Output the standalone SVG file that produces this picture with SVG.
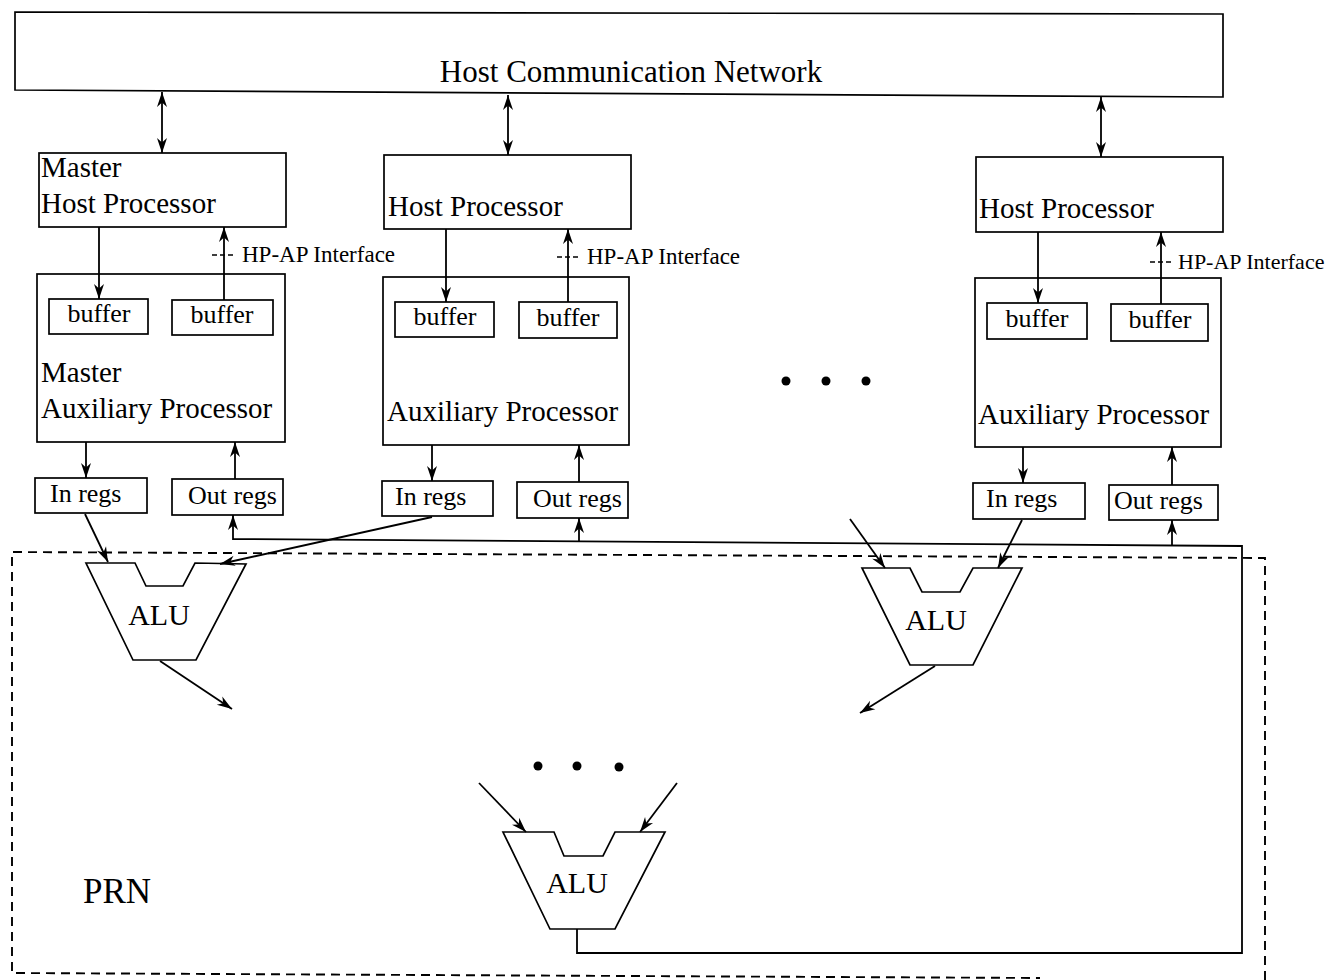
<svg xmlns="http://www.w3.org/2000/svg" width="1340" height="980" viewBox="0 0 1340 980">
<defs>
<marker id="ah" markerUnits="userSpaceOnUse" markerWidth="20" markerHeight="14" viewBox="-17 -7 19 14" refX="0" refY="0" orient="auto-start-reverse">
<path d="M0,0 L-15,-5 L-10.5,0 L-15,5 Z" fill="#000"/>
</marker>
</defs>
<style>
.box{fill:#fff;stroke:#000;stroke-width:1.7}
.ln{fill:none;stroke:#000;stroke-width:1.7}
.ar{fill:none;stroke:#000;stroke-width:1.8;marker-end:url(#ah)}
.bi{fill:none;stroke:#000;stroke-width:1.8;marker-end:url(#ah);marker-start:url(#ah)}
.dash{fill:none;stroke:#000;stroke-width:1.9;stroke-dasharray:9,6}
.t{font-family:"Liberation Serif","Times New Roman",serif;fill:#000}
.big{font-size:29px}
.mid{font-size:26px}
.sm{font-size:23px}
.c{text-anchor:middle}
</style>
<rect width="1340" height="980" fill="#fff"/>

<g id="prn">
<path class="dash" d="M1265,980 L1265,558 L12,552 L12,973 L1040,978"/>
<text class="t" x="83" y="903" style="font-size:35px">PRN</text>
</g>

<g id="network">
<path class="box" d="M15,12 L1223,14 L1223,97 L15,90 Z"/>
<text class="t c" x="631" y="82" style="font-size:31px">Host Communication Network</text>
</g>

<g id="host1">
<rect class="box" x="39" y="153" width="247" height="74"/>
<text class="t big" x="41" y="177">Master</text>
<text class="t big" x="41" y="213">Host Processor</text>
</g>
<g id="host2">
<rect class="box" x="384" y="155" width="247" height="74"/>
<text class="t big" x="388" y="216">Host Processor</text>
</g>
<g id="host3">
<rect class="box" x="976" y="157" width="247" height="75"/>
<text class="t big" x="979" y="218">Host Processor</text>
</g>

<g id="aux1">
<rect class="box" x="37" y="274" width="248" height="168"/>
<text class="t big" x="41" y="382">Master</text>
<text class="t big" x="41" y="418">Auxiliary Processor</text>
</g>
<g id="aux2">
<rect class="box" x="383" y="277" width="246" height="168"/>
<text class="t big" x="387" y="421">Auxiliary Processor</text>
</g>
<g id="aux3">
<rect class="box" x="975" y="278" width="246" height="169"/>
<text class="t big" x="978" y="424">Auxiliary Processor</text>
</g>

<g id="buf1a"><rect class="box" x="49" y="299" width="99" height="35"/><text class="t mid c" x="99" y="322">buffer</text></g>
<g id="buf1b"><rect class="box" x="172" y="300" width="101" height="35"/><text class="t mid c" x="222" y="323">buffer</text></g>
<g id="buf2a"><rect class="box" x="395" y="302" width="99" height="35"/><text class="t mid c" x="445" y="325">buffer</text></g>
<g id="buf2b"><rect class="box" x="519" y="302" width="98" height="36"/><text class="t mid c" x="568" y="326">buffer</text></g>
<g id="buf3a"><rect class="box" x="987" y="303" width="100" height="36"/><text class="t mid c" x="1037" y="327">buffer</text></g>
<g id="buf3b"><rect class="box" x="1111" y="304" width="97" height="37"/><text class="t mid c" x="1160" y="328">buffer</text></g>

<g id="inregs1"><rect class="box" x="35" y="478" width="112" height="35"/><text class="t mid" x="50" y="502">In regs</text></g>
<g id="outregs1"><rect class="box" x="172" y="479" width="111" height="36"/><text class="t mid" x="188" y="504">Out regs</text></g>
<g id="inregs2"><rect class="box" x="382" y="481" width="111" height="35"/><text class="t mid" x="395" y="505">In regs</text></g>
<g id="outregs2"><rect class="box" x="517" y="482" width="111" height="36"/><text class="t mid" x="533" y="507">Out regs</text></g>
<g id="inregs3"><rect class="box" x="973" y="483" width="112" height="36"/><text class="t mid" x="986" y="507">In regs</text></g>
<g id="outregs3"><rect class="box" x="1109" y="485" width="109" height="35"/><text class="t mid" x="1114" y="509">Out regs</text></g>

<g id="alu1">
<path class="box" d="M86,563 L135,563 L146,586 L183,586 L195,563 L246,564 L196,660 L133,660 Z"/>
<text class="t c" x="159" y="625" style="font-size:30px">ALU</text>
</g>
<g id="alu2">
<path class="box" d="M862,568 L910,568 L922,592 L960,592 L973,568 L1022,568 L973,665 L910,665 Z"/>
<text class="t c" x="936" y="630" style="font-size:30px">ALU</text>
</g>
<g id="alu3">
<path class="box" d="M503,832 L554,832 L564,856 L603,856 L615,832 L665,832 L615,929 L550,929 Z"/>
<text class="t c" x="577" y="893" style="font-size:30px">ALU</text>
</g>

<g id="dots">
<circle cx="786" cy="381" r="4.5"/>
<circle cx="826" cy="381" r="4.5"/>
<circle cx="866" cy="381" r="4.5"/>
<circle cx="538" cy="766" r="4.5"/>
<circle cx="577" cy="766" r="4.5"/>
<circle cx="619" cy="767" r="4.5"/>
</g>

<g id="interface-labels">
<line class="ln" x1="212" y1="255" x2="236" y2="255" style="stroke-dasharray:5,3"/>
<text class="t sm" x="242" y="262">HP-AP Interface</text>
<line class="ln" x1="557" y1="257" x2="580" y2="257" style="stroke-dasharray:5,3"/>
<text class="t sm" x="587" y="264">HP-AP Interface</text>
<line class="ln" x1="1150" y1="262" x2="1172" y2="262" style="stroke-dasharray:5,3"/>
<text class="t" x="1178" y="269" style="font-size:22px">HP-AP Interface</text>
</g>

<g id="connectors">
<line class="bi" x1="162" y1="92" x2="162" y2="153"/>
<line class="bi" x1="508" y1="95" x2="508" y2="155"/>
<line class="bi" x1="1101" y1="97" x2="1101" y2="157"/>

<line class="ar" x1="99" y1="227" x2="99" y2="299"/>
<line class="ar" x1="224" y1="300" x2="224" y2="227"/>
<line class="ar" x1="446" y1="229" x2="446" y2="302"/>
<line class="ar" x1="568" y1="302" x2="568" y2="229"/>
<line class="ar" x1="1038" y1="232" x2="1038" y2="303"/>
<line class="ar" x1="1161" y1="304" x2="1161" y2="232"/>

<line class="ar" x1="86" y1="442" x2="86" y2="478"/>
<line class="ar" x1="235" y1="479" x2="235" y2="442"/>
<line class="ar" x1="432" y1="445" x2="432" y2="481"/>
<line class="ar" x1="579" y1="482" x2="579" y2="445"/>
<line class="ar" x1="1023" y1="447" x2="1023" y2="483"/>
<line class="ar" x1="1172" y1="485" x2="1172" y2="447"/>

<line class="ar" x1="85" y1="514" x2="108" y2="562"/>
<line class="ar" x1="432" y1="517" x2="220" y2="564"/>
<line class="ar" x1="160" y1="661" x2="232" y2="709"/>

<line class="ar" x1="850" y1="519" x2="885" y2="568"/>
<line class="ar" x1="1022" y1="520" x2="998" y2="568"/>
<line class="ar" x1="935" y1="666" x2="860" y2="713"/>

<line class="ar" x1="479" y1="783" x2="526" y2="832"/>
<line class="ar" x1="677" y1="783" x2="640" y2="832"/>

<path class="ar" d="M577,929 L577,953 L1242,953 L1242,546 L233,539 L233,515"/>
<line class="ar" x1="579" y1="541" x2="579" y2="518"/>
<line class="ar" x1="1172" y1="546" x2="1172" y2="520"/>
</g>
</svg>
